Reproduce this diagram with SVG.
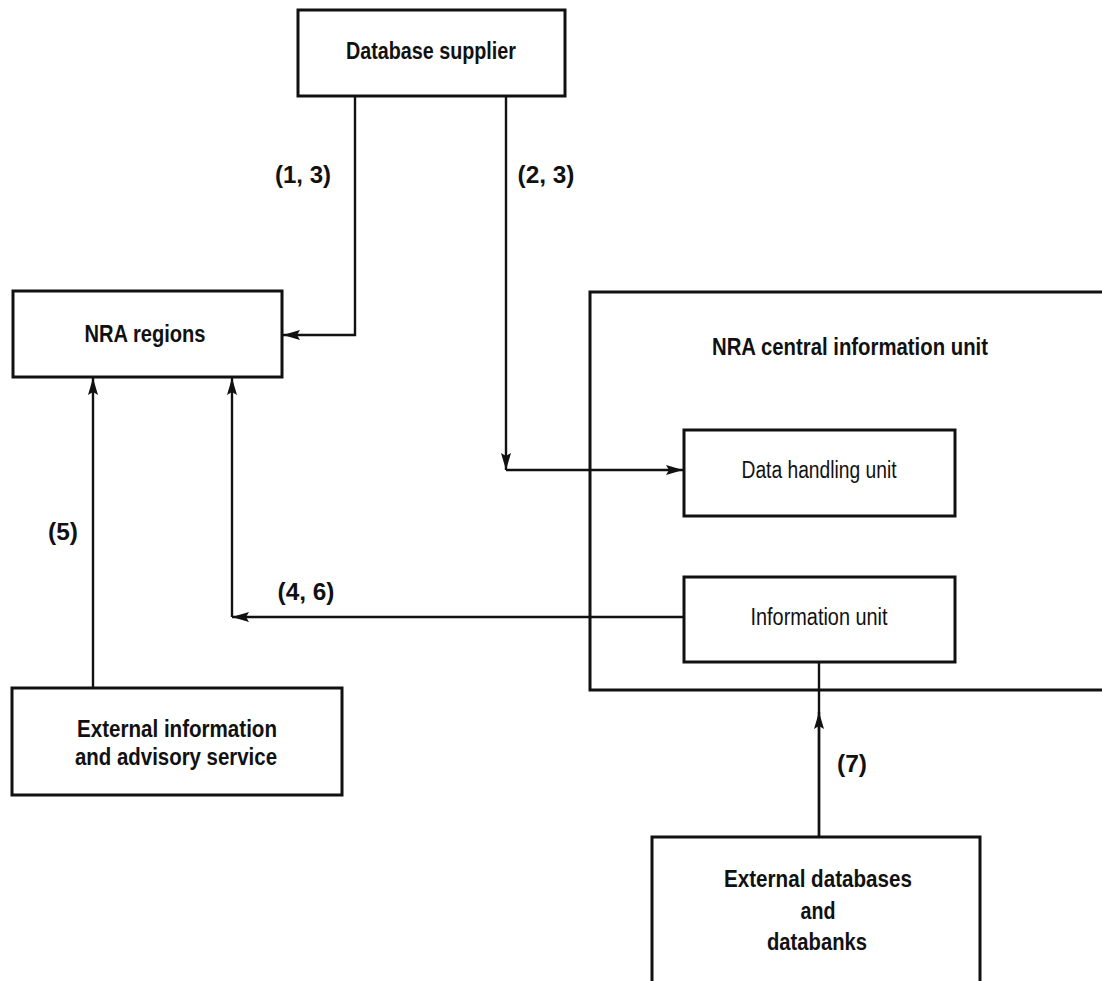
<svg xmlns="http://www.w3.org/2000/svg" width="1102" height="981" viewBox="0 0 1102 981">
<style>
.box{fill:none;stroke:#111;stroke-width:3}
.ln{fill:none;stroke:#111;stroke-width:2.4}
.t{font-family:"Liberation Sans",Arial,sans-serif;font-size:23px;font-weight:bold;fill:#111;text-anchor:middle}
.r{font-weight:normal}
</style>
<defs>
<marker id="ah" markerUnits="userSpaceOnUse" markerWidth="20" markerHeight="12" refX="17" refY="5" orient="auto">
<path d="M0,0 L17,5 L0,10 L3,5 z" fill="#111"/>
</marker>
</defs>
<rect width="1102" height="981" fill="#fff"/>
<g id="database-supplier">
<rect class="box" x="298" y="10" width="267" height="86"/>
<text class="t" x="431" y="59" textLength="170" lengthAdjust="spacingAndGlyphs">Database supplier</text>
</g>
<g id="nra-regions">
<rect class="box" x="13" y="291" width="269" height="86"/>
<text class="t" x="145" y="342" textLength="121" lengthAdjust="spacingAndGlyphs">NRA regions</text>
</g>
<g id="nra-central">
<rect class="box" x="590" y="292" width="530" height="398"/>
<text class="t" x="850" y="355" textLength="276" lengthAdjust="spacingAndGlyphs">NRA central information unit</text>
</g>
<g id="data-handling-unit">
<rect class="box" x="684" y="430" width="271" height="86"/>
<text class="t r" x="819" y="478" textLength="155" lengthAdjust="spacingAndGlyphs">Data handling unit</text>
</g>
<g id="information-unit">
<rect class="box" x="684" y="577" width="271" height="85"/>
<text class="t r" x="819" y="625" textLength="137" lengthAdjust="spacingAndGlyphs">Information unit</text>
</g>
<g id="external-info">
<rect class="box" x="12" y="688" width="330" height="107"/>
<text class="t" x="177" y="737" textLength="200" lengthAdjust="spacingAndGlyphs">External information</text>
<text class="t" x="176" y="765" textLength="202" lengthAdjust="spacingAndGlyphs">and advisory service</text>
</g>
<g id="external-databases">
<rect class="box" x="652" y="837" width="328" height="160"/>
<text class="t" x="818" y="887" textLength="188" lengthAdjust="spacingAndGlyphs">External databases</text>
<text class="t" x="818" y="919" textLength="35" lengthAdjust="spacingAndGlyphs">and</text>
<text class="t" x="817" y="950" textLength="100" lengthAdjust="spacingAndGlyphs">databanks</text>
</g>
<g id="connectors">
<path class="ln" d="M355,96 V335 H283" marker-end="url(#ah)"/>
<path class="ln" d="M506,96 V470" marker-end="url(#ah)"/>
<path class="ln" d="M506,470 H683" marker-end="url(#ah)"/>
<path class="ln" d="M684,617 H232" marker-end="url(#ah)"/>
<path class="ln" d="M232,617 V378" marker-end="url(#ah)"/>
<path class="ln" d="M93,688 V378" marker-end="url(#ah)"/>
<path class="ln" d="M819,662 V837"/>
<path class="ln" d="M819,837 V712" marker-end="url(#ah)"/>
<text class="t" x="303" y="183" textLength="56" lengthAdjust="spacingAndGlyphs">(1, 3)</text>
<text class="t" x="546" y="183" textLength="57" lengthAdjust="spacingAndGlyphs">(2, 3)</text>
<text class="t" x="63" y="540" textLength="30" lengthAdjust="spacingAndGlyphs">(5)</text>
<text class="t" x="306" y="600" textLength="57" lengthAdjust="spacingAndGlyphs">(4, 6)</text>
<text class="t" x="852" y="772" textLength="30" lengthAdjust="spacingAndGlyphs">(7)</text>
</g>
</svg>
